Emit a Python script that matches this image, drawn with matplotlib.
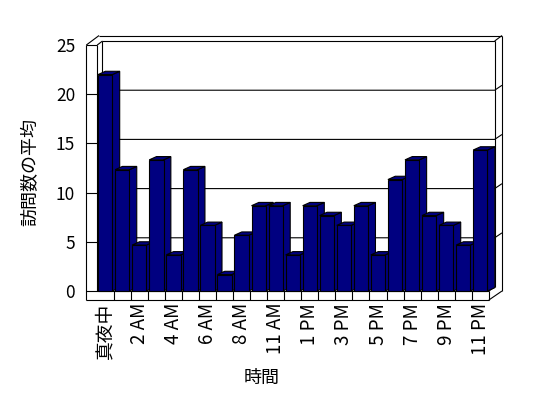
import matplotlib
matplotlib.use('Agg')
import matplotlib.pyplot as plt
from matplotlib.patches import Polygon

plt.rcParams['font.family'] = ['Noto Sans CJK JP', 'DejaVu Sans']

# 時間帯 (10 AM はデータなし)
hours = ['真夜中', '1 AM', '2 AM', '3 AM', '4 AM', '5 AM', '6 AM', '7 AM', '8 AM', '9 AM',
         '11 AM', '正午', '1 PM', '2 PM', '3 PM', '4 PM', '5 PM', '6 PM', '7 PM', '8 PM',
         '9 PM', '10 PM', '11 PM']
visits = [22.0, 12.33, 4.67, 13.33, 3.67, 12.33, 6.67, 1.67, 5.67, 8.67,
          8.67, 3.67, 8.67, 7.67, 6.67, 8.67, 3.67, 11.33, 13.33, 7.67,
          6.67, 4.67, 14.33]
yticks = [0, 5, 10, 15, 20, 25]

navy = '#000080'
lw = 0.8
n = len(visits)

fig = plt.figure(figsize=(5.48, 3.98), dpi=100)
ax = fig.add_axes([0.1575, 0.2462, 0.7604, 0.6658])
ax.set_xlim(-1.108, 23.33)
ax.set_ylim(-0.915, 26.02)
for s in ax.spines.values():
    s.set_visible(False)
ax.patch.set_visible(False)

# 3D frame parameters (data units)
x_lo, x_hi, ymax = -0.5, n - 0.5, 25
dx, dy = 0.34, 0.41          # depth of plot area
tx, ty = 0.43, 0.56          # thickness of back wall
lw_l = x_lo - 0.61           # outer edge of left wall
fl = 0.915                   # floor thickness


def line(xs, ys, z=1):
    ax.plot(xs, ys, color='black', lw=lw, zorder=z, clip_on=False, solid_capstyle='butt')


# back wall
line([x_lo + dx, x_hi + dx], [ymax + dy, ymax + dy])
line([x_lo + dx, x_lo + dx], [dy, ymax + dy])
line([x_hi + dx, x_hi + dx], [dy, ymax + dy])
line([x_lo + dx - 0.2, x_hi + dx + tx], [ymax + dy + ty, ymax + dy + ty])
line([x_hi + dx, x_hi + dx + tx], [ymax + dy, ymax + dy + ty])
line([x_hi + dx + tx, x_hi + dx + tx], [0, ymax + dy + ty])
for v in yticks[1:-1]:
    line([x_lo + dx, x_hi + dx, x_hi + dx + tx], [v + dy, v + dy, v + dy + 0.5])

# left wall
line([lw_l, lw_l], [-fl, ymax])
line([x_lo + 0.03, x_lo + 0.03], [0, ymax])
line([lw_l, x_lo + 0.03], [ymax, ymax])
line([lw_l, x_lo + dx - 0.2], [ymax, ymax + dy + ty])
line([x_lo + 0.03, x_lo + dx], [ymax, ymax + dy])
for v in yticks[1:-1]:
    line([lw_l, x_lo + 0.03], [v, v])

# floor
line([lw_l, x_hi], [0, 0])
line([lw_l, x_hi], [-fl, -fl])
for k in range(1, n + 1):
    line([x_lo + k, x_lo + k], [-fl, 0])
line([x_hi, x_hi + dx + tx], [-fl, 0])
line([x_hi, x_hi + dx], [0, dy])

# bars
w = 0.84
bdx, bdy = 0.43, 0.335
bars = ax.bar(range(n), visits, width=w, color=navy, edgecolor='black', linewidth=lw)
for i, (b, v) in enumerate(zip(bars, visits)):
    b.set_zorder(4 + 2 * i)
    xr = i + w / 2
    xl = i - w / 2
    side = Polygon([(xr, 0), (xr + bdx, bdy), (xr + bdx, v + bdy), (xr, v)],
                   closed=True, facecolor=navy, edgecolor='black', lw=lw, zorder=3 + 2 * i)
    top = Polygon([(xl, v), (xr, v), (xr + bdx, v + bdy), (xl + bdx, v + bdy)],
                  closed=True, facecolor=navy, edgecolor='black', lw=lw, zorder=3 + 2 * i)
    ax.add_patch(side)
    ax.add_patch(top)

ax.set_yticks(yticks)
ax.set_yticklabels([str(t) for t in yticks], fontsize=12.5)
ax.set_xticks(range(0, n, 2))
ax.set_xticklabels(hours[::2], rotation=90, fontsize=13.5)
ax.tick_params(axis='y', length=0, pad=8)
ax.tick_params(axis='x', length=0, pad=2)

ax.set_ylabel('訪問数の平均', fontsize=13, va='center')
ax.yaxis.set_label_coords(-0.133, 0.483)
ax.set_xlabel('時間', fontsize=13, va='center')
ax.xaxis.set_label_coords(0.4217, -0.294)

fig.savefig('out.png', dpi=100)
